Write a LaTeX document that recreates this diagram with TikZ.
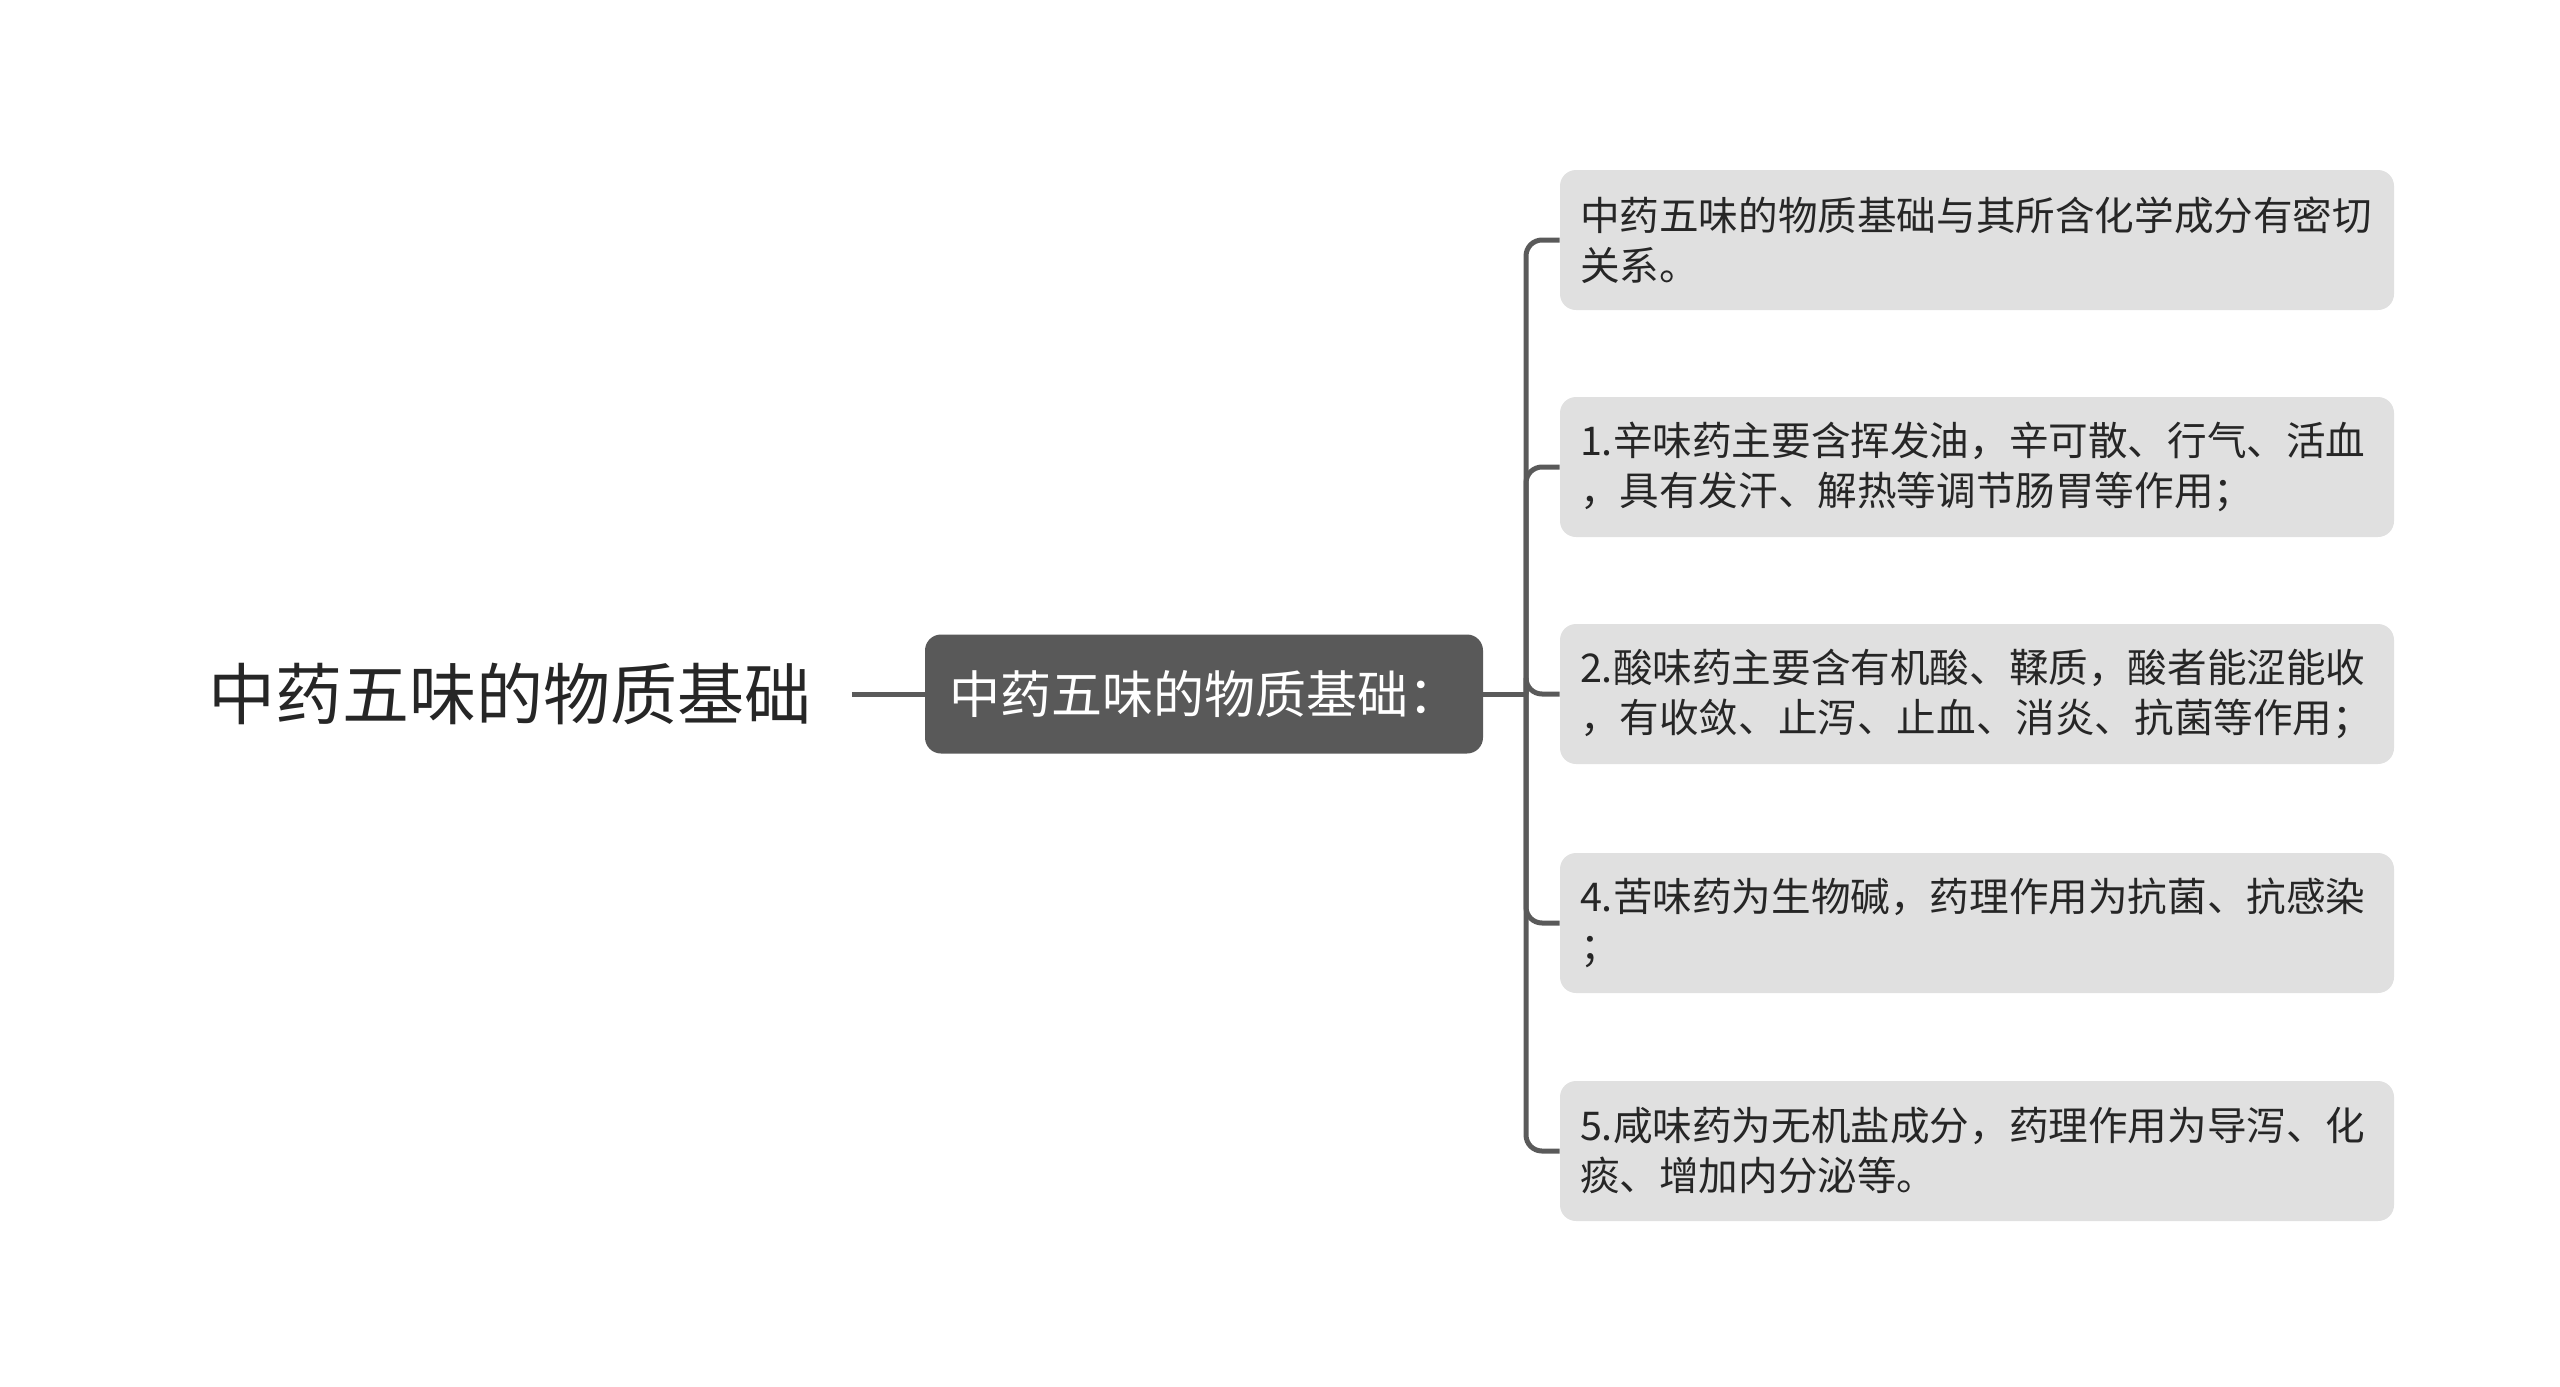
\documentclass[tikz,border=0pt]{standalone}
\usepackage{fontspec}
\newfontfamily\cjk{Noto Sans CJK SC}
\usetikzlibrary{calc}
\definecolor{hubgray}{HTML}{595959}
\definecolor{leafgray}{HTML}{E0E0E0}
\definecolor{inkgray}{HTML}{262626}
\definecolor{linegray}{HTML}{5A5A5A}

\begin{document}
\begin{tikzpicture}[x=0.5pt,y=-0.5pt,
	roottext/.style={inner xsep=20pt,font=\cjk\fontsize{33.5pt}{40pt}\selectfont,text=inkgray},
	hubbox/.style={fill=hubgray,rounded corners=8pt,inner xsep=12pt,minimum height=59.5pt,minimum width=279pt,text=white,font=\cjk\fontsize{25.5pt}{30pt}\selectfont},
	leafbox/.style={fill=leafgray,rounded corners=8pt,inner xsep=10pt,minimum height=70pt,text width=397pt,align=left,text=inkgray,font=\cjk\fontsize{19.8pt}{25pt}\selectfont},
	link/.style={linegray,line width=2.5pt,rounded corners=8pt}]
	\useasboundingbox (0,0) rectangle (2560,1387);
	
	%root and hub
	\node[roottext] (root) at (510,694) {中药五味的物质基础};
	\node[hubbox] (hub) at (1204,694) {中药五味的物质基础：};
	\coordinate (fork) at (1526,694);
	
	%leaves
	\node[leafbox] (leafA) at (1977,240) {中药五味的物质基础与其所含化学成分有密切\\关系。};
	\node[leafbox] (leafB) at (1977,467) {1.辛味药主要含挥发油，辛可散、行气、活血\\，具有发汗、解热等调节肠胃等作用；};
	\node[leafbox] (leafC) at (1977,694) {2.酸味药主要含有机酸、鞣质，酸者能涩能收\\，有收敛、止泻、止血、消炎、抗菌等作用；};
	\node[leafbox] (leafD) at (1977,923) {4.苦味药为生物碱，药理作用为抗菌、抗感染\\；};
	\node[leafbox] (leafE) at (1977,1151) {5.咸味药为无机盐成分，药理作用为导泻、化\\痰、增加内分泌等。};
	
	%connectors
	\draw[link] (root.east) -- (hub.west);
	\draw[link] (hub.east) -- (fork);
	\foreach \leaf in {leafA,leafB,leafC,leafD,leafE}
		\draw[link] (fork) |- (\leaf.west);
	
\end{tikzpicture}
\end{document}
